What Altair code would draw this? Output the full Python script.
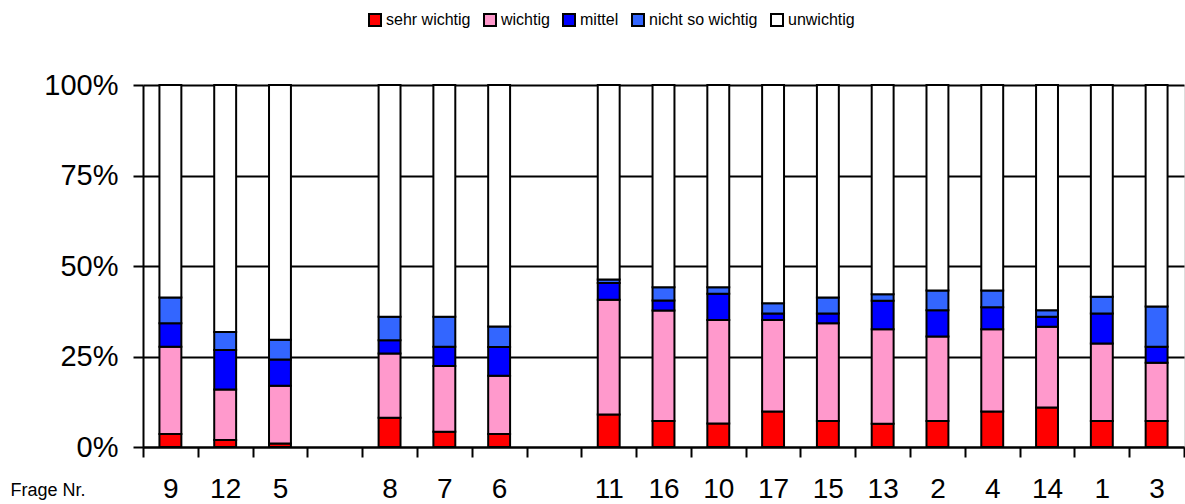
import altair as alt
import pandas as pd

# Question order along the x axis; the "_" entries are empty spacer slots
slots = ["9", "12", "5", "_a", "8", "7", "6", "_b",
         "11", "16", "10", "17", "15", "13", "2", "4", "14", "1", "3"]
questions = ["9", "12", "5", "8", "7", "6",
             "11", "16", "10", "17", "15", "13", "2", "4", "14", "1", "3"]

levels = ["sehr wichtig", "wichtig", "mittel", "nicht so wichtig", "unwichtig"]
colors = ["#FF0000", "#FF99CC", "#0000FF", "#3366FF", "#FFFFFF"]

# Share of answers per question (percent)
sehr_wichtig = [3.6, 1.9, 1.0, 8.1, 4.2, 3.6, 9.0, 7.2, 6.5, 9.8, 7.2, 6.4, 7.2, 9.8, 10.9, 7.2, 7.2]
wichtig = [24.1, 14.0, 15.9, 17.7, 18.2, 16.1, 31.7, 30.5, 28.6, 25.3, 27.0, 26.1, 23.3, 22.7, 22.3, 21.4, 16.1]
mittel = [6.5, 10.9, 7.3, 3.7, 5.3, 7.9, 4.6, 2.8, 7.2, 1.8, 2.7, 7.9, 7.3, 6.1, 2.8, 8.3, 4.4]
nicht_so_wichtig = [7.1, 5.0, 5.4, 6.5, 8.3, 5.7, 1.0, 3.6, 1.8, 2.8, 4.4, 1.8, 5.4, 4.6, 1.8, 4.6, 11.1]
unwichtig = [58.7, 68.2, 70.4, 64.0, 64.0, 66.7, 53.7, 55.9, 55.9, 60.3, 58.7, 57.8, 56.8, 56.8, 62.2, 58.5, 61.2]

series = [sehr_wichtig, wichtig, mittel, nicht_so_wichtig, unwichtig]
rows = []
for k, (level, values) in enumerate(zip(levels, series)):
    for q, v in zip(questions, values):
        rows.append({"Frage": q, "Stufe": level, "Anteil": v, "idx": k})
df = pd.DataFrame(rows)

FONT = "Liberation Sans"

chart = alt.Chart(df).mark_bar(
    stroke="black", strokeWidth=2, width={"band": 0.4}
).encode(
    x=alt.X(
        "Frage:N",
        scale=alt.Scale(domain=slots, paddingInner=0, paddingOuter=0),
        axis=alt.Axis(
            title="Frage Nr.",
            titleX=-133, titleY=48, titleAlign="left", titleBaseline="alphabetic",
            titleAnchor="start", titleFontSize=18, titleFontWeight="normal",
            titleFont=FONT, titleColor="black",
            labelExpr="indexof(datum.label, '_') == 0 ? '' : datum.label",
            labelAngle=0, labelFontSize=28, labelFont=FONT, labelColor="black",
            labelPadding=18, tickBand="extent", tickSize=10, tickWidth=2,
            tickColor="black", domainColor="black", domainWidth=2, grid=False,
        ),
    ),
    y=alt.Y(
        "Anteil:Q",
        stack="zero",
        scale=alt.Scale(domain=[0, 100], nice=False),
        axis=alt.Axis(
            title=None, values=[0, 25, 50, 75, 100],
            labelExpr="datum.value + '%'",
            labelFontSize=29, labelFont=FONT, labelColor="black", labelPadding=15,
            tickSize=10, tickWidth=2, tickColor="black",
            domainColor="black", domainWidth=2,
            grid=True, gridColor="black", gridWidth=2,
        ),
    ),
    fill=alt.Fill(
        "Stufe:N",
        scale=alt.Scale(domain=levels, range=colors),
        legend=alt.Legend(
            title=None, orient="none", direction="horizontal",
            legendX=224, legendY=-73,
            symbolType="square", symbolSize=144,
            symbolStrokeWidth=2, symbolOpacity=1,
            labelFontSize=16, labelFont=FONT, labelColor="black",
            labelOffset=3, columnPadding=9, padding=0,
        ),
    ),
    order=alt.Order("idx:Q"),
).properties(
    width=1041,
    height=362,
    padding={"left": 143, "top": 85, "right": 1, "bottom": 57},
    autosize=alt.AutoSizeParams(type="none"),
).configure_view(
    stroke=None
).configure(
    background="white"
)

chart.save("out.html", embed_options={"renderer": "svg", "actions": False})
